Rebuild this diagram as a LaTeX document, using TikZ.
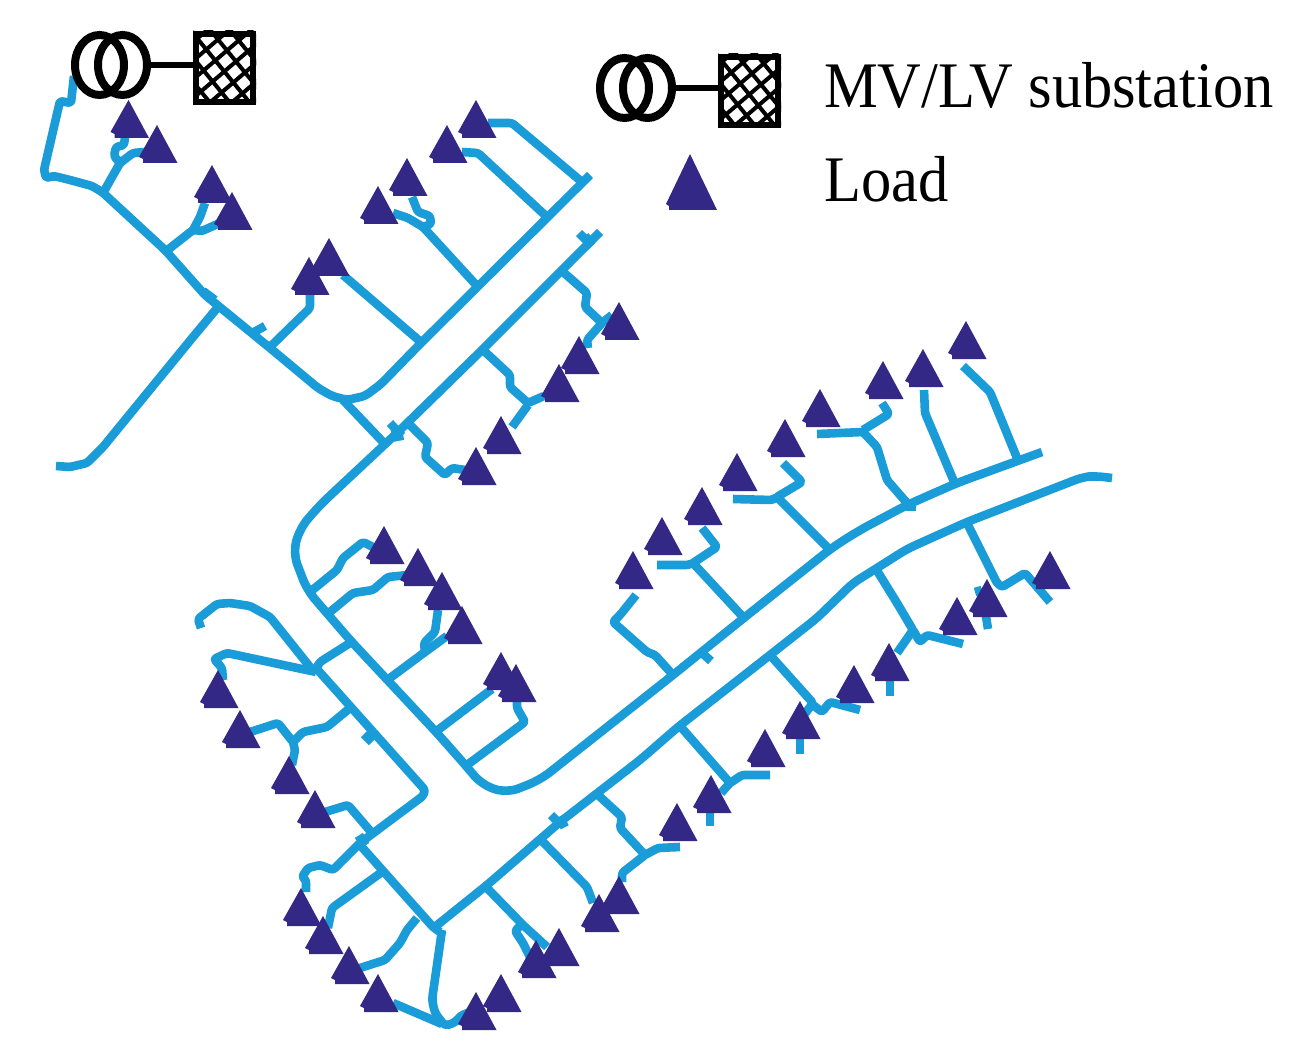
\documentclass[tikz,border=0pt]{standalone}
\usepackage{fontspec}
\setmainfont{Liberation Serif}
\definecolor{wirec}{HTML}{1A9CD9}
\definecolor{loadc}{HTML}{332885}
\tikzset{
  wire/.style={draw=wirec,line width=8.6pt,line join=round,line cap=butt,rounded corners=2.5pt},
  main/.style={wire,rounded corners=5pt},
  blob/.style={wire,line width=12pt},
  loadmark/.style={fill=loadc,draw=none},
  coil/.style={draw=black,line width=8pt},
  lead/.style={draw=black,line width=5.5pt},
  frame/.style={draw=black,line width=6pt},
  hatchline/.style={draw=black,line width=4pt},
  legendtext/.style={anchor=base west,inner sep=0pt,font=\fontsize{65}{70}\selectfont,xscale=0.93}
}
\newcommand{\subst}[2]{%
  \begin{scope}[shift={(#1,#2)}]
    \draw[coil] (99.5,65) ellipse [x radius=24.5,y radius=30];
    \draw[coil] (122.5,65) ellipse [x radius=24.5,y radius=30];
    \draw[lead] (150,65) -- (193,65);
    \begin{scope}
      \clip (193,31) rectangle (256,105);
      \foreach \k in {-5,...,5}{
        \draw[hatchline] ({215.3+\k*11.7-90},{60.5-\k*10-110}) -- ({215.3+\k*11.7+90},{60.5-\k*10+110});
        \draw[hatchline] ({215.3+\k*9-117},{60.5+\k*11+100}) -- ({215.3+\k*9+117},{60.5+\k*11-100});
      }
    \end{scope}
    \draw[frame] (196,34) rectangle (253,102);
  \end{scope}}
\newcommand{\loadtri}[2]{%
  \fill[loadmark] (#1,#2) -- ++(20.5,38) -- ++(-34.5,0) -- ++(0,-4) -- ++(-4,-2) -- cycle;}
\begin{document}
\begin{tikzpicture}[x=1pt,y=-1pt]
\useasboundingbox (0,0) rectangle (1303,1064);
\fill[white] (0,0) rectangle (1303,1064);

% ---- upper network
\draw[wire] (74,76) -- (71,103) -- (60,101) -- (44,170) -- (46,178) -- (54,176) -- (70,180) -- (92,186) -- (102,192);
\draw[main,rounded corners=4pt] (100,190) -- (165,250) -- (205,295) -- (270,348) -- (318,388) -- (332,396) -- (347,400) -- (365,396) -- (381,384) -- (420,344) -- (590,175);
\draw[wire] (547,217) -- (478,153) -- (462,152);
\draw[wire] (582,182) -- (512,123) -- (488,123);
\draw[wire] (478,287) -- (423,227) -- (408,218) -- (393,213);
\draw[wire] (423,227) -- (431,224) -- (430,216) -- (418,212) -- (412,197);
\draw[wire] (422,343) -- (343,275);
\draw[wire] (270,347) -- (310,308) -- (310,295);
\draw[wire] (218,307) -- (193,337) -- (103,447) -- (87,463) -- (70,467) -- (56,466);
\draw[wire] (203,291) -- (215,300);
\draw[wire] (254,332) -- (265,326);
\draw[wire] (103,193) -- (120,163) -- (133,153) -- (144,152);
\draw[wire] (120,163) -- (114,156) -- (116,147) -- (124,145) -- (125,137);
\draw[wire] (165,252) -- (193,230) -- (202,231) -- (222,222);
\draw[wire] (193,230) -- (200,217) -- (205,203);
% second line of upper pair
\draw[main,rounded corners=12pt] (600,232) -- (482,350) -- (397,433) -- (320,505) -- (300,528) -- (293,553) -- (307,590) -- (350,640) -- (437,733) -- (467,767) -- (482,785) -- (507,793) -- (540,780) -- (673,675) -- (745,617) -- (833,547) -- (860,530) -- (907,505) -- (957,483) -- (1042,452);
\draw[wire] (579,233) -- (592,246);
\draw[blob] (585,243) -- (592,238);
\draw[wire] (343,400) -- (383,442);
\draw[blob] (392,436) -- (403,434);
\draw[wire] (390,423) -- (402,436);
\draw[wire] (410,425) -- (428,443) -- (425,457) -- (445,475) -- (452,468) -- (465,470);
\draw[wire] (483,350) -- (510,375) -- (510,387) -- (528,403) -- (544,396);
\draw[wire] (528,405) -- (512,427);
\draw[wire] (563,272) -- (587,293) -- (585,307) -- (602,323) -- (612,315);
\draw[wire] (602,323) -- (587,340) -- (588,348);
% ---- lower network, upper-line branches
\draw[wire] (310,592) -- (337,570) -- (343,558) -- (363,542) -- (375,548);
\draw[wire] (330,612) -- (353,593) -- (373,590) -- (388,577) -- (408,575);
\draw[wire] (390,678) -- (425,652) -- (447,636);
\draw[wire] (425,652) -- (424,643) -- (435,632) -- (438,610);
\draw[wire] (438,730) -- (492,689);
\draw[wire] (467,765) -- (525,722) -- (517,708) -- (517,700);
% inner line
\draw[wire] (350,643) -- (320,662) -- (314,672);
\draw[wire] (316,668) -- (425,790) -- (423,796) -- (360,843) -- (333,870) -- (320,865) -- (308,868) -- (302,877) -- (306,880) -- (306,892);
\draw[blob] (365,733) -- (373,741);
\draw[wire] (350,708) -- (327,727) -- (303,732) -- (293,742) -- (278,723) -- (250,732);
\draw[wire] (293,742) -- (295,750) -- (292,765);
\draw[wire] (316,672) -- (227,653) -- (214,659) -- (222,668) -- (223,680);
\draw[wire] (314,672) -- (270,617) -- (250,606) -- (230,603) -- (217,604) -- (198,619) -- (201,628);
\draw[wire] (372,833) -- (348,805) -- (325,812);
\draw[blob] (358,843) -- (366,838);
\draw[wire] (360,845) -- (433,927) -- (440,932);
\draw[wire,rounded corners=4pt] (442,930) -- (437,965) -- (432,1000) -- (435,1013) -- (445,1026) -- (456,1022) -- (460,1016) -- (470,1012);
\draw[wire] (393,1003) -- (442,1024);
\draw[wire] (382,872) -- (332,908) -- (328,928);
\draw[wire] (417,918) -- (407,930) -- (400,943) -- (385,960) -- (360,968);
\draw[wire] (487,888) -- (523,925) -- (547,947);
\draw[wire] (523,923) -- (515,931) -- (523,943) -- (530,957);
\draw[wire] (543,842) -- (587,887) -- (593,903);
\draw[wire] (598,795) -- (622,817) -- (620,828) -- (645,855) -- (658,848) -- (680,847);
\draw[wire] (645,855) -- (622,873) -- (622,882);
% ---- lower main line
\draw[main,rounded corners=8pt] (436,926) -- (487,885) -- (560,822) -- (640,760) -- (678,727) -- (770,655) -- (817,618) -- (853,583) -- (877,568) -- (907,549) -- (967,522) -- (1083,477) -- (1095,476) -- (1112,478);
\draw[wire] (551,815) -- (560,824);
\draw[blob] (558,824) -- (566,820);
\draw[wire] (702,653) -- (711,661);
\draw[wire] (680,726) -- (730,783) -- (721,793);
\draw[wire] (730,783) -- (742,775) -- (770,775);
\draw[wire] (710,810) -- (710,826);
\draw[wire] (770,655) -- (813,703) -- (804,715);
\draw[wire] (813,705) -- (822,712) -- (830,702) -- (860,710);
\draw[wire] (800,735) -- (800,754);
\draw[wire] (876,569) -- (897,603) -- (913,630) -- (897,653);
\draw[wire] (913,630) -- (920,642) -- (927,635) -- (963,644);
\draw[wire] (890,676) -- (890,696);
\draw[wire] (966,521) -- (997,583) -- (1002,587) -- (1025,573) -- (1050,602);
\draw[wire] (985,610) -- (988,629);
\draw[wire] (975,592) -- (982,590);
% ---- upper-line branches, right part
\draw[wire] (830,550) -- (777,497) -- (772,500) -- (733,499);
\draw[wire] (777,497) -- (802,482) -- (783,463);
\draw[wire] (743,617) -- (693,563) -- (688,565) -- (657,565);
\draw[wire] (693,563) -- (717,547) -- (702,528);
\draw[wire] (673,675) -- (655,655) -- (647,652) -- (613,622) -- (620,615) -- (636,595);
\draw[wire] (907,503) -- (887,480) -- (877,447) -- (863,432) -- (817,434);
\draw[wire] (863,430) -- (889,414) -- (882,403);
\draw[blob] (905,505) -- (916,505);
\draw[wire] (955,484) -- (925,413) -- (924,390);
\draw[wire] (1017,458) -- (990,392) -- (963,366);

% ---- loads
\foreach \x/\y in {128.5/100,157/125,212/165,232/192,476/100,447/125,407/158,378/186,329/238,309/257,619/302,579/336,559/364,501/416,476/447,384/526,418/548,442/572,462/606,501/652,516/664,218/670,240/710,289/756,315/790,301/888,323/916,349/946,378/974,476/992,501/974,536/940,559/928,599/894,619/876,633/551,662/517,702/487,737/453,785/419,820/389,883/361,923/349,966/321,1050/551,987/579,957/597,889/643,854/665,800/701,765/729,711/775,677/803}{
  \loadtri{\x}{\y}
}

% ---- substations
\subst{0}{0}
\subst{525}{23}

% ---- legend
\fill[loadmark] (690,154) -- (717,210) -- (669,210) -- (669,206) -- (666,204) -- cycle;
\node[legendtext] (legsub) at (824,108) {MV/LV substation};
\node[legendtext] (legload) at (824,202) {Load};
\end{tikzpicture}
\end{document}
